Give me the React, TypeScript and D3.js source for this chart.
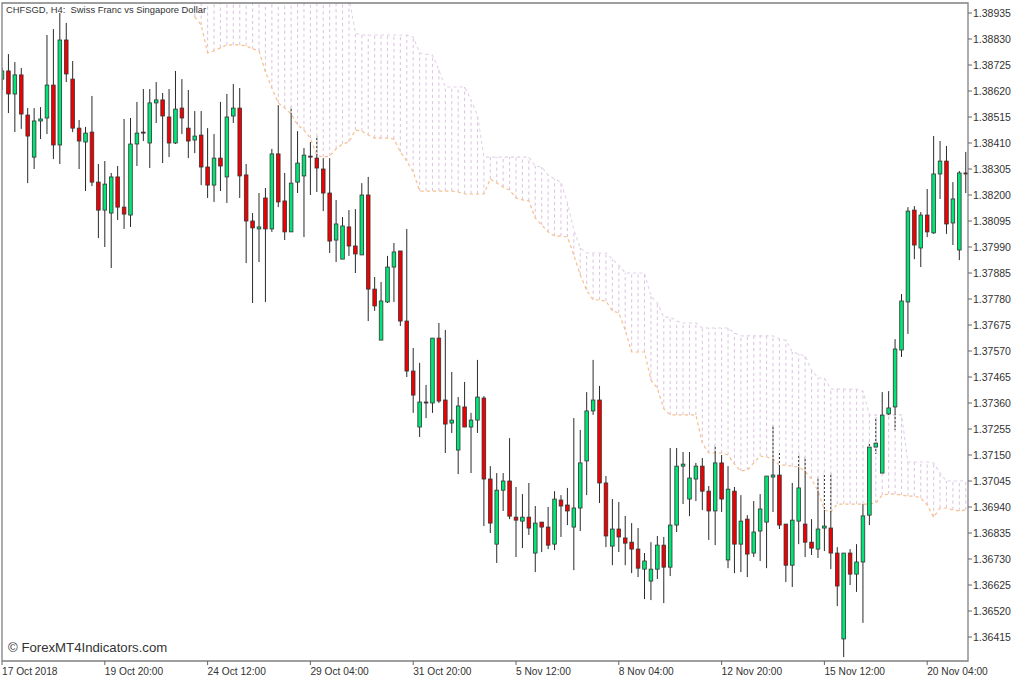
import { useEffect, useRef } from "react"
import * as d3 from "d3"

// Velas H4 (una por barra, de izquierda a derecha)
const opens = [
  1.38668, 1.38701, 1.38608, 1.38685, 1.38523, 1.38353, 1.38499, 1.38511, 1.38644, 1.38402,
  1.38826, 1.38668, 1.38470, 1.38414, 1.38454, 1.38252, 1.38139, 1.38127, 1.38273, 1.38151,
  1.38119, 1.38406, 1.38454, 1.38410, 1.38572, 1.38584, 1.38515, 1.38410, 1.38551, 1.38470,
  1.38422, 1.38442, 1.38313, 1.38240, 1.38349, 1.38273, 1.38519, 1.38551, 1.38281, 1.38095,
  1.38063, 1.38188, 1.38063, 1.38366, 1.38176, 1.38051, 1.38252, 1.38277, 1.38357, 1.38349,
  1.38305, 1.38208, 1.38018, 1.37941, 1.38071, 1.37994, 1.37958, 1.38200, 1.37820, 1.37614,
  1.37768, 1.37909, 1.37974, 1.37691, 1.37489, 1.37263, 1.37364, 1.37360, 1.37622, 1.37372,
  1.37279, 1.37170, 1.37344, 1.37263, 1.37291, 1.37380, 1.37053, 1.36790, 1.37008, 1.37045,
  1.36899, 1.36883, 1.36899, 1.36754, 1.36879, 1.36859, 1.36790, 1.36968, 1.36948, 1.36859,
  1.36936, 1.37126, 1.37328, 1.37372, 1.37037, 1.36782, 1.36851, 1.36815, 1.36798, 1.36770,
  1.36689, 1.36641, 1.36689, 1.36786, 1.36697, 1.36867, 1.37105, 1.36972, 1.37053, 1.37105,
  1.37004, 1.36924, 1.37118, 1.36726, 1.37004, 1.36790, 1.36891, 1.36754, 1.36843, 1.36879,
  1.37061, 1.37069, 1.36871, 1.36705, 1.36883, 1.36871, 1.36798, 1.36770, 1.36855, 1.36855,
  1.36754, 1.36407, 1.36754, 1.36669, 1.36718, 1.36907, 1.37182, 1.37077, 1.37316, 1.37344,
  1.37574, 1.37768, 1.38139, 1.37986, 1.38119, 1.38047, 1.38285, 1.38337, 1.38087, 1.37978,
  1.38289,
]
const highs = [
  1.38713, 1.38769, 1.38737, 1.38713, 1.38551, 1.38551, 1.38555, 1.38846, 1.38870, 1.38935,
  1.38895, 1.38741, 1.38503, 1.38475, 1.38600, 1.38325, 1.38337, 1.38289, 1.38317, 1.38507,
  1.38511, 1.38576, 1.38628, 1.38628, 1.38656, 1.38612, 1.38628, 1.38701, 1.38668, 1.38624,
  1.38539, 1.38539, 1.38470, 1.38446, 1.38576, 1.38608, 1.38648, 1.38632, 1.38325, 1.38127,
  1.38208, 1.38228, 1.38386, 1.38563, 1.38289, 1.38555, 1.38458, 1.38390, 1.38414, 1.38438,
  1.38349, 1.38349, 1.38180, 1.38111, 1.38139, 1.38143, 1.38248, 1.38273, 1.37869, 1.37849,
  1.37954, 1.38006, 1.37974, 1.38063, 1.37582, 1.37522, 1.37433, 1.37622, 1.37683, 1.37655,
  1.37485, 1.37384, 1.37445, 1.37320, 1.37534, 1.37388, 1.37105, 1.37077, 1.37077, 1.37218,
  1.37021, 1.36992, 1.37037, 1.36944, 1.36879, 1.36940, 1.37004, 1.36988, 1.37017, 1.37299,
  1.37251, 1.37404, 1.37534, 1.37429, 1.37065, 1.36972, 1.36960, 1.36904, 1.36875, 1.36855,
  1.36754, 1.36798, 1.36823, 1.36819, 1.37178, 1.37178, 1.37162, 1.37162, 1.37118, 1.37138,
  1.37025, 1.37190, 1.37150, 1.37105, 1.37021, 1.36988, 1.36907, 1.36964, 1.36992, 1.37065,
  1.37271, 1.37166, 1.36871, 1.37037, 1.37154, 1.37142, 1.36891, 1.37061, 1.37077, 1.37077,
  1.36778, 1.36754, 1.36770, 1.36790, 1.36952, 1.37202, 1.37303, 1.37404, 1.37408, 1.37618,
  1.37800, 1.38151, 1.38155, 1.38131, 1.38224, 1.38438, 1.38418, 1.38398, 1.38252, 1.38297,
  1.38374,
]
const lows = [
  1.38624, 1.38531, 1.38454, 1.38467, 1.38248, 1.38305, 1.38426, 1.38446, 1.38345, 1.38325,
  1.38656, 1.38454, 1.38305, 1.38216, 1.38236, 1.38026, 1.37990, 1.37905, 1.38099, 1.38063,
  1.38071, 1.38317, 1.38418, 1.38309, 1.38491, 1.38329, 1.38353, 1.38406, 1.38446, 1.38349,
  1.38369, 1.38240, 1.38188, 1.38172, 1.38216, 1.38168, 1.38491, 1.38188, 1.37925, 1.37764,
  1.37929, 1.37768, 1.38051, 1.38151, 1.38018, 1.38051, 1.38208, 1.38030, 1.38200, 1.38212,
  1.38135, 1.37966, 1.37929, 1.37941, 1.37954, 1.37885, 1.37958, 1.37691, 1.37732, 1.37614,
  1.37764, 1.37768, 1.37671, 1.37465, 1.37320, 1.37223, 1.37299, 1.37320, 1.37360, 1.37158,
  1.37239, 1.37073, 1.37263, 1.37077, 1.37239, 1.36863, 1.36835, 1.36714, 1.36924, 1.36891,
  1.36738, 1.36774, 1.36827, 1.36677, 1.36758, 1.36770, 1.36766, 1.36819, 1.36867, 1.36685,
  1.36843, 1.36988, 1.37312, 1.36956, 1.36778, 1.36705, 1.36758, 1.36705, 1.36673, 1.36657,
  1.36568, 1.36564, 1.36649, 1.36552, 1.36661, 1.36839, 1.36952, 1.36903, 1.36964, 1.36928,
  1.36807, 1.36786, 1.36920, 1.36693, 1.36673, 1.36677, 1.36657, 1.36738, 1.36722, 1.36693,
  1.36920, 1.36851, 1.36637, 1.36617, 1.36790, 1.36738, 1.36746, 1.36734, 1.36762, 1.36689,
  1.36540, 1.36334, 1.36625, 1.36597, 1.36472, 1.36867, 1.37154, 1.37077, 1.37303, 1.37251,
  1.37546, 1.37639, 1.37941, 1.37909, 1.38030, 1.38043, 1.38184, 1.38043, 1.37998, 1.37937,
  1.38208,
]
const closes = [
  1.38701, 1.38608, 1.38685, 1.38527, 1.38438, 1.38499, 1.38507, 1.38644, 1.38402, 1.38826,
  1.38689, 1.38470, 1.38418, 1.38450, 1.38252, 1.38139, 1.38244, 1.38273, 1.38151, 1.38123,
  1.38406, 1.38450, 1.38450, 1.38572, 1.38584, 1.38519, 1.38410, 1.38547, 1.38511, 1.38418,
  1.38438, 1.38313, 1.38240, 1.38349, 1.38317, 1.38515, 1.38551, 1.38277, 1.38095, 1.38067,
  1.38071, 1.38063, 1.38366, 1.38172, 1.38051, 1.38248, 1.38329, 1.38361, 1.38353, 1.38309,
  1.38208, 1.38014, 1.38083, 1.38075, 1.37994, 1.37962, 1.38200, 1.37820, 1.37752, 1.37772,
  1.37909, 1.37970, 1.37691, 1.37489, 1.37392, 1.37364, 1.37360, 1.37622, 1.37368, 1.37275,
  1.37291, 1.37348, 1.37263, 1.37291, 1.37384, 1.37053, 1.36875, 1.37008, 1.37045, 1.36903,
  1.36887, 1.36899, 1.36855, 1.36875, 1.36859, 1.36786, 1.36972, 1.36944, 1.36924, 1.36936,
  1.37118, 1.37328, 1.37372, 1.37037, 1.36823, 1.36851, 1.36819, 1.36794, 1.36770, 1.36693,
  1.36722, 1.36689, 1.36786, 1.36697, 1.36867, 1.37105, 1.37113, 1.37057, 1.37105, 1.37004,
  1.36924, 1.37118, 1.36972, 1.37012, 1.36790, 1.36883, 1.36750, 1.36839, 1.36932, 1.37065,
  1.37069, 1.36867, 1.36705, 1.36887, 1.37017, 1.36798, 1.36774, 1.36851, 1.36863, 1.36754,
  1.36621, 1.36754, 1.36669, 1.36718, 1.36904, 1.37182, 1.37198, 1.37311, 1.37340, 1.37578,
  1.37772, 1.38135, 1.37998, 1.38119, 1.38051, 1.38285, 1.38337, 1.38083, 1.38184, 1.38289,
  1.38285,
]

// Nube: primera barra con nube y sus dos bordes
const cloudStart = 30
const cloudLower = [
  1.38919, 1.38887, 1.38774, 1.38782, 1.38794, 1.38806, 1.38806, 1.38806, 1.38802, 1.38790,
  1.38782, 1.38697, 1.38632, 1.38572, 1.38551, 1.38527, 1.38483, 1.38462, 1.38430, 1.38361,
  1.38353, 1.38357, 1.38386, 1.38406, 1.38414, 1.38462, 1.38458, 1.38442, 1.38430, 1.38430,
  1.38430, 1.38426, 1.38374, 1.38337, 1.38293, 1.38216, 1.38216, 1.38216, 1.38216, 1.38216,
  1.38216, 1.38212, 1.38204, 1.38204, 1.38204, 1.38204, 1.38265, 1.38248, 1.38232, 1.38220,
  1.38188, 1.38180, 1.38176, 1.38107, 1.38079, 1.38051, 1.38034, 1.38034, 1.38030, 1.37958,
  1.37877, 1.37816, 1.37776, 1.37776, 1.37772, 1.37732, 1.37724, 1.37655, 1.37566, 1.37566,
  1.37566, 1.37453, 1.37420, 1.37336, 1.37312, 1.37312, 1.37312, 1.37312, 1.37312, 1.37198,
  1.37158, 1.37158, 1.37158, 1.37150, 1.37113, 1.37085, 1.37089, 1.37118, 1.37146, 1.37142,
  1.37134, 1.37109, 1.37109, 1.37105, 1.37101, 1.37085, 1.37053, 1.37004, 1.36928, 1.36920,
  1.36952, 1.36952, 1.36952, 1.36952, 1.36952, 1.36952, 1.36956, 1.36988, 1.36992, 1.36992,
  1.36988, 1.36984, 1.36984, 1.36976, 1.36948, 1.36899, 1.36936, 1.36936, 1.36928, 1.36924,
  1.36928,
]
const cloudUpper = [
  1.39010, 1.39010, 1.39010, 1.39010, 1.39010, 1.39010, 1.39010, 1.39010, 1.39010, 1.39010,
  1.39010, 1.39010, 1.39010, 1.39010, 1.39010, 1.39010, 1.39010, 1.39010, 1.39010, 1.39010,
  1.39010, 1.39010, 1.39010, 1.39010, 1.39000, 1.38854, 1.38846, 1.38846, 1.38846, 1.38846,
  1.38846, 1.38846, 1.38846, 1.38846, 1.38838, 1.38774, 1.38769, 1.38765, 1.38705, 1.38636,
  1.38636, 1.38636, 1.38636, 1.38584, 1.38523, 1.38353, 1.38353, 1.38353, 1.38353, 1.38353,
  1.38353, 1.38353, 1.38353, 1.38317, 1.38313, 1.38281, 1.38265, 1.38252, 1.38168, 1.38059,
  1.37986, 1.37966, 1.37966, 1.37966, 1.37966, 1.37941, 1.37917, 1.37885, 1.37885, 1.37885,
  1.37885, 1.37792, 1.37764, 1.37707, 1.37707, 1.37691, 1.37683, 1.37683, 1.37683, 1.37663,
  1.37663, 1.37663, 1.37663, 1.37663, 1.37643, 1.37631, 1.37631, 1.37631, 1.37631, 1.37631,
  1.37631, 1.37618, 1.37614, 1.37566, 1.37558, 1.37550, 1.37493, 1.37461, 1.37461, 1.37416,
  1.37416, 1.37416, 1.37416, 1.37416, 1.37408, 1.37312, 1.37312, 1.37312, 1.37312, 1.37312,
  1.37312, 1.37122, 1.37122, 1.37122, 1.37122, 1.37118, 1.37077, 1.37045, 1.37045, 1.37045,
  1.37045,
]

const priceTicks = [
  "1.38935", "1.38830", "1.38725", "1.38620", "1.38515", "1.38410", "1.38305", "1.38200", "1.38095",
  "1.37990", "1.37885", "1.37780", "1.37675", "1.37570", "1.37465", "1.37360", "1.37255", "1.37150",
  "1.37045", "1.36940", "1.36835", "1.36730", "1.36625", "1.36520", "1.36415",
]
const timeTickBars = [0, 16, 32, 48, 64, 80, 96, 112, 128, 144]
const timeTickLabels = [
  "17 Oct 2018", "19 Oct 20:00", "24 Oct 12:00", "29 Oct 04:00", "31 Oct 20:00",
  "5 Nov 12:00", "8 Nov 04:00", "12 Nov 20:00", "15 Nov 12:00", "20 Nov 04:00",
]

const FONT = "Liberation Sans, Arial, sans-serif"
const DASH = "3.2,3"

export default function App() {
  const svgRef = useRef<SVGSVGElement>(null)

  useEffect(() => {
    if (!svgRef.current) return
    const svg = d3.select(svgRef.current)
    svg.selectAll("*").remove()

    const left = 2, right = 968, top = 3, bottom = 661

    const x = d3.scaleLinear().domain([0, 150]).range([2, 965.75])
    const y = d3.scaleLinear().domain([1.38935, 1.36415]).range([13, 637])

    svg.append("rect").attr("width", 1024).attr("height", 681).attr("fill", "#fff")

    svg.append("defs").append("clipPath").attr("id", "plot")
      .append("rect").attr("x", left).attr("y", top).attr("width", right - left).attr("height", bottom - top)

    const plot = svg.append("g").attr("clip-path", "url(#plot)")

    // Nube
    const cloudBars = cloudLower.map((_, i) => cloudStart + i)
    plot.append("g").selectAll("line").data(cloudBars).enter().append("line")
      .attr("x1", (b) => x(b)).attr("x2", (b) => x(b))
      .attr("y1", (_, i) => y(cloudLower[i])).attr("y2", (_, i) => y(cloudUpper[i]))
      .attr("stroke", "#dfc6e4").attr("stroke-width", 1.1).attr("stroke-dasharray", DASH)

    const edge = d3.line<number>().x((_, i) => x(cloudStart + i)).y((d) => y(d))
    plot.append("path").datum(cloudUpper).attr("d", edge).attr("fill", "none")
      .attr("stroke", "#e2d2e8").attr("stroke-width", 1.1).attr("stroke-dasharray", DASH)
    plot.append("path").datum(cloudLower).attr("d", edge).attr("fill", "none")
      .attr("stroke", "#f9bf88").attr("stroke-width", 1.2).attr("stroke-dasharray", DASH)

    // Velas
    const bars = d3.range(opens.length)
    plot.append("g").selectAll("line").data(bars).enter().append("line")
      .attr("x1", (i) => x(i)).attr("x2", (i) => x(i))
      .attr("y1", (i) => y(highs[i])).attr("y2", (i) => y(lows[i]))
      .attr("stroke", "#2a2a2a").attr("stroke-width", 1)

    // Donde la mecha cruza la nube queda punteada
    const gaps = plot.append("g").attr("stroke", "#fff").attr("stroke-width", 1.2).attr("stroke-dasharray", "2,2")
    bars.forEach((i) => {
      const c = i - cloudStart
      if (c < 0) return
      const upTop = Math.max(y(highs[i]), y(cloudUpper[c]))
      const upEnd = Math.min(y(Math.max(opens[i], closes[i])), y(cloudLower[c]))
      const downTop = Math.max(y(Math.min(opens[i], closes[i])), y(cloudUpper[c]))
      const downEnd = Math.min(y(lows[i]), y(cloudLower[c]))
      if (upEnd > upTop) gaps.append("line").attr("x1", x(i)).attr("x2", x(i)).attr("y1", upTop).attr("y2", upEnd)
      if (downEnd > downTop) gaps.append("line").attr("x1", x(i)).attr("x2", x(i)).attr("y1", downTop).attr("y2", downEnd)
    })

    plot.append("g").selectAll("rect").data(bars).enter().append("rect")
      .attr("x", (i) => x(i) - 1.8).attr("width", 3.6)
      .attr("y", (i) => y(Math.max(opens[i], closes[i])))
      .attr("height", (i) => Math.max(1, Math.abs(y(opens[i]) - y(closes[i]))))
      .attr("fill", (i) => (closes[i] >= opens[i] ? "#00e676" : "#f00000"))
      .attr("stroke", "#333").attr("stroke-width", 0.8)

    // Marco
    svg.append("path")
      .attr("d", `M${left},${bottom}V${top}H${right}V${bottom}H${left}`)
      .attr("fill", "none").attr("stroke", "#808080").attr("stroke-width", 1.3)

    // Eje de precios
    const priceAxis = svg.append("g").attr("font-family", FONT).attr("font-size", 10.5).attr("fill", "#333")
    priceTicks.forEach((t) => {
      const py = y(+t)
      priceAxis.append("line").attr("x1", right).attr("x2", right + 4).attr("y1", py).attr("y2", py)
        .attr("stroke", "#666").attr("stroke-width", 1)
      priceAxis.append("text").attr("x", right + 5).attr("y", py + 3.8).text(t)
    })

    // Eje de tiempo
    const timeAxis = svg.append("g").attr("font-family", FONT).attr("font-size", 10.2).attr("fill", "#333")
    timeTickBars.forEach((b, i) => {
      timeAxis.append("line").attr("x1", x(b)).attr("x2", x(b)).attr("y1", bottom).attr("y2", bottom + 4)
        .attr("stroke", "#666").attr("stroke-width", 1)
      timeAxis.append("text").attr("x", x(b)).attr("y", 675).text(timeTickLabels[i])
    })

    // Textos
    svg.append("text").attr("x", 6).attr("y", 13).attr("font-family", FONT).attr("font-size", 9.4)
      .attr("fill", "#333").style("white-space", "pre")
      .text("CHFSGD, H4:  Swiss Franc vs Singapore Dollar")
    svg.append("text").attr("x", 8).attr("y", 652).attr("font-family", FONT).attr("font-size", 13.2)
      .attr("fill", "#333").text("© ForexMT4Indicators.com")
  }, [])

  return <svg ref={svgRef} width={1024} height={681} style={{ position: "absolute", left: 0, top: 0 }} />
}
